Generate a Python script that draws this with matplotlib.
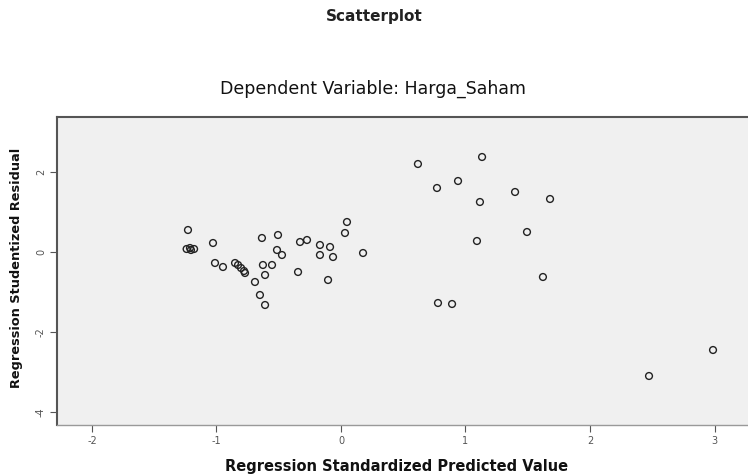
import matplotlib
matplotlib.use("Agg")
import matplotlib.pyplot as plt

plt.rcParams['font.family'] = ['DejaVu Sans']

# Regression Standardized Predicted Value
pred = [-1.229, -1.213, -1.24, -1.205, -1.18, -1.028, -1.012, -0.948,
        -0.851, -0.827, -0.803, -0.779, -0.771, -0.691, -0.651, -0.610,
        -0.635, -0.627, -0.610, -0.554, -0.506, -0.514, -0.474, -0.329,
        -0.273, -0.169, -0.169, -0.088, -0.064, 0.032, 0.048, 0.177,
        -0.345, -0.104, 0.618, 1.133, 0.771, 0.940, 1.116, 1.398,
        1.679, 1.494, 1.092, 1.622, 0.779, 0.892, 2.474, 2.988]
# Regression Studentized Residual
resid = [0.55, 0.10, 0.075, 0.05, 0.075, 0.225, -0.275, -0.375,
         -0.275, -0.325, -0.40, -0.475, -0.525, -0.75, -1.075, -1.325,
         0.35, -0.325, -0.575, -0.325, 0.425, 0.05, -0.075, 0.25,
         0.30, 0.175, -0.075, 0.125, -0.125, 0.475, 0.75, -0.025,
         -0.50, -0.70, 2.20, 2.375, 1.60, 1.775, 1.25, 1.50,
         1.325, 0.50, 0.275, -0.625, -1.275, -1.30, -3.10, -2.45]

xticks = [-2, -1, 0, 1, 2, 3]
yticks = [-4, -2, 0, 2]

fig = plt.figure(figsize=(7.48, 4.74), dpi=100)
ax = fig.add_axes([57/748, 1 - 425/474, 1 - 57/748, (425 - 117)/474])
ax.set_facecolor('#f0f0f0')

ax.scatter(pred, resid, s=24, facecolors='none', edgecolors='#222222', linewidths=1.0)

ax.set_xlim(-2.281, 3.269)
ax.set_ylim(-4.325, 3.375)
ax.set_xticks(xticks)
ax.set_yticks(yticks)
ax.set_xticklabels([str(t) for t in xticks], fontsize=7, color='#555555')
ax.set_yticklabels([str(t) for t in yticks], fontsize=7, color='#555555', rotation=90, va='center')
ax.tick_params(axis='both', direction='out', length=5, width=0.8, color='#555555', pad=3)

for side in ['left', 'top']:
    ax.spines[side].set_color('#555555')
    ax.spines[side].set_linewidth(1.5)
ax.spines['bottom'].set_color('#999999')
ax.spines['bottom'].set_linewidth(1.0)
ax.spines['right'].set_visible(False)

fig.text(374/748, 1 - 16/474, 'Scatterplot', ha='center', va='center', fontsize=11,
         fontweight='semibold', color='#222222')
fig.text(373/748, 1 - 89/474, 'Dependent Variable: Harga_Saham', ha='center', va='center',
         fontsize=12.5, color='#111111')
fig.text(397/748, 1 - 466/474, 'Regression Standardized Predicted Value', ha='center', va='center',
         fontsize=10.5, fontweight='bold', color='#111111')
fig.text(17/748, 1 - 268/474, 'Regression Studentized Residual', ha='center', va='center',
         fontsize=9.3, fontweight='bold', color='#111111', rotation=90)

fig.savefig('out.png', dpi=100)
